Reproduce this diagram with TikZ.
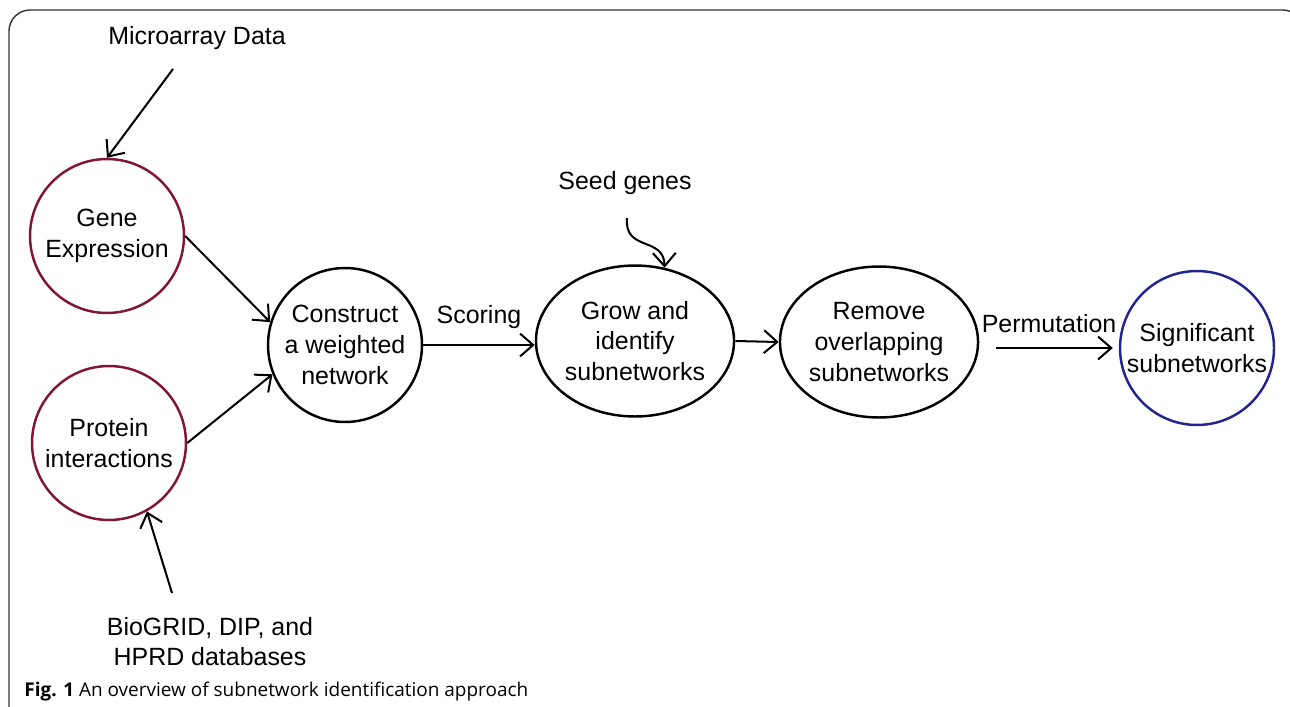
\documentclass[tikz,border=0pt]{standalone}
\usepackage{fontspec}
\setmainfont{Liberation Sans}
\newfontfamily\capfont{Open Sans}
\usetikzlibrary{shapes,shapes.geometric,arrows.meta,calc}
\definecolor{srcred}{RGB}{128,22,52}
\definecolor{endblue}{RGB}{36,36,140}
\tikzset{
  stage/.style={
      draw,
      circle,
      line width=1.4pt,
      minimum size=3.08cm,
      inner sep=0pt,
      align=center,
      font=\fontsize{14.2}{17.5}\selectfont
  },
  source/.style={
      stage,
      draw=srcred
  },
  oval/.style={
      stage,
      ellipse,
      minimum width=3.6cm,
      minimum height=3.02cm
  },
  note/.style={
      align=center,
      inner sep=1pt,
      font=\fontsize{14.2}{17}\selectfont
  },
  flow/.style={
      -{Straight Barb[length=7.5pt,width=13pt]},
      line width=1.15pt
  }
}

\begin{document}
\begin{tikzpicture}[x=0.02cm,y=-0.02cm]
				\useasboundingbox (0,0) rectangle (1290,706);
				\draw[line width=0.8pt,draw=black!80,rounded corners=12pt] (9,740) -- (9,10) -- (1304,10) -- (1304,740);
				\node[note] (micro) at (197,38) {Microarray Data};
				\node[source] (gene) at (107,236) {Gene\\Expression};
				\node[source] (protein) at (109,443) {Protein\\interactions};
				\node[note] (bio) at (210,642) {BioGRID, DIP, and\\HPRD databases};
				\node[stage] (construct) at (345,345) {Construct\\a weighted\\network};
				\node[oval] (grow) at (635,341) {Grow and\\identify\\subnetworks};
				\node[note] (seed) at (625,183) {Seed genes};
				\node[oval] (remove) at (879,342) {Remove\\overlapping\\subnetworks};
				\node[stage,draw=endblue] (sig) at (1197,348) {Significant\\subnetworks};
				\coordinate (microout) at (173,69);
				\coordinate (bioout) at (172,593);
				\coordinate (seedout) at (627,218);
				\draw[flow] (microout) -- (gene.north);
				\draw[flow] (bioout) -- (protein.299);
				\draw[flow] (gene.east) -- (construct.163);
				\draw[flow] (protein.east) -- (construct.202);
				\draw[flow] (construct.east) -- node[note,above=8pt] {Scoring} (construct.east -| grow.west);
				\draw[flow] (seedout) .. controls (624,252) and (664,236) .. (grow.68);
				\draw[flow] (grow.east) -- (remove.west);
				\draw[flow,shorten <=0.34cm,shorten >=0.12cm] (remove.east |- sig.west) -- node[note,above=7pt] {Permutation} (sig.west);
				\node[anchor=base west,inner sep=0pt,font=\capfont\fontsize{10.8}{13}\selectfont] (caption) at (24,696) {\textbf{Fig. 1} An overview of subnetwork identification approach};
		\end{tikzpicture}
\end{document}
